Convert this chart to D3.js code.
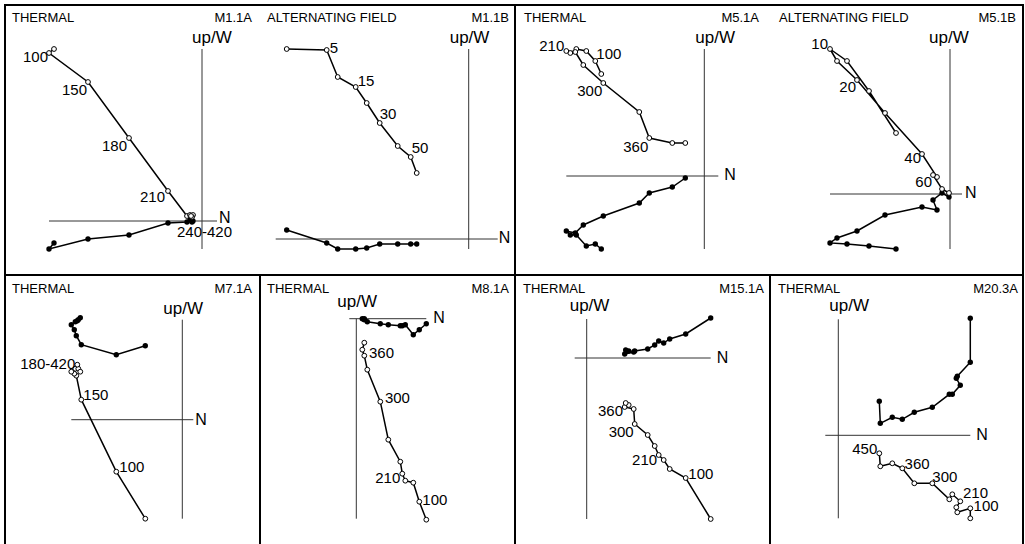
<!DOCTYPE html>
<html>
<head>
<meta charset="utf-8">
<script src="https://cdn.jsdelivr.net/npm/d3@7"></script>
<style>
  body { margin: 0; background: #fff; }
  svg text { font-family: "Liberation Sans", Arial, sans-serif; fill: #000; }
</style>
</head>
<body>
<div class="main"></div>
<script>
// demag data, components in arbitrary units (N, up, W)
var m11aSteps = ["NRM", "100", "150", "180", "210", "240", "270", "300", "360", "420"];
var m11aN  = [-14.8, -15.3, -11.4, -7.3, -3.4, -1.5, -1.2, -0.9, -1.0, -1.1];
var m11aUp = [17.2, 16.8, 13.9, 8.3, 3.0, 0.5, 0.6, 0.6, 0.4, 0.5];
var m11aW  = [-2.2, -2.8, -1.8, -1.4, -0.2, -0.1, 0.1, 0.0, -0.1, 0.1];
var m11aTags = [[1, "100"], [2, "150"], [3, "180"], [4, "210"], [5, "240-420"]];

var m11bSteps = ["NRM", "5", "10", "15", "20", "30", "40", "50", "60"];
var m11bN  = [-18.2, -14.2, -13.1, -11.3, -10.2, -8.9, -7.1, -5.8, -5.2];
var m11bUp = [19.0, 18.9, 16.2, 15.2, 13.6, 11.6, 9.3, 8.2, 6.6];
var m11bW  = [0.9, -0.4, -1.0, -1.0, -0.9, -0.5, -0.5, -0.5, -0.5];
var m11bTags = [[1, "5"], [3, "15"], [5, "30"], [7, "50"]];

var m51aSteps = ["NRM", "100", "150", "180", "200", "210", "240", "270", "300", "330", "360", "390", "420"];
var m51aN  = [-10.3, -10.9, -11.8, -12.8, -13.4, -13.8, -12.9, -12.1, -10.1, -6.5, -5.5, -3.2, -1.9];
var m51aUp = [10.2, 11.5, 12.5, 12.7, 12.3, 12.5, 12.4, 11.1, 9.3, 6.4, 3.8, 3.3, 3.3];
var m51aW  = [-7.3, -6.8, -7.0, -5.9, -5.9, -5.5, -5.7, -4.9, -4.0, -2.7, -1.7, -1.1, -0.2];
var m51aTags = [[5, "210"], [1, "100"], [8, "300"], [10, "360"]];

var m51bSteps = ["NRM", "2", "5", "10", "15", "20", "30", "40", "50", "60", "80", "100"];
var m51bN  = [-5.4, -8.1, -10.3, -12.0, -11.3, -9.3, -6.5, -2.8, -1.3, -1.7, -0.8, -0.1];
var m51bUp = [6.1, 10.3, 13.3, 14.5, 13.3, 11.4, 8.1, 4.0, 1.7, 1.9, 0.5, 0.1];
var m51bW  = [-5.5, -5.2, -5.0, -4.9, -4.4, -3.7, -2.1, -1.3, -1.6, -0.6, 0.1, -0.3];
var m51bTags = [[3, "10"], [5, "20"], [7, "40"], [9, "60"]];

var m71aSteps = ["NRM", "100", "150", "180", "210", "240", "270", "300", "360", "420"];
var m71aN  = [-3.7, -6.6, -10.1, -10.6, -10.8, -11.1, -10.7, -10.4, -10.2, -10.5];
var m71aUp = [-9.9, -5.2, 2.0, 4.4, 4.6, 4.8, 5.1, 5.1, 4.8, 5.5];
var m71aW  = [7.4, 6.5, 7.5, 8.4, 9.0, 9.5, 9.8, 10.0, 10.2, 9.9];
var m71aTags = [[3, "180-420"], [2, "150"], [1, "100"]];

var m81aSteps = ["NRM", "100", "150", "180", "210", "240", "270", "300", "330", "360", "390", "420"];
var m81aN  = [7.0, 6.3, 5.7, 4.9, 4.6, 4.4, 3.2, 2.4, 1.1, 0.8, 0.6, 0.8];
var m81aUp = [-20.1, -18.3, -16.4, -16.2, -15.5, -14.3, -12.1, -8.3, -5.1, -3.7, -3.1, -2.4];
var m81aW  = [-0.5, -1.1, -1.6, -0.6, -0.7, -0.7, -0.6, -0.5, -0.3, -0.1, 0.0, 0.0];
var m81aTags = [[1, "100"], [4, "210"], [7, "300"], [9, "360"]];

var m151aSteps = ["NRM", "100", "150", "180", "210", "240", "270", "300", "330", "360", "390", "420"];
var m151aN  = [12.4, 9.9, 8.3, 7.7, 7.2, 6.8, 6.1, 4.8, 4.7, 3.8, 4.2, 3.9];
var m151aUp = [-16.1, -12.0, -11.1, -10.2, -9.7, -8.8, -7.7, -6.6, -5.1, -4.9, -4.7, -4.5];
var m151aW  = [4.0, 2.4, 1.9, 1.5, 1.7, 1.3, 0.9, 0.7, 0.6, 0.4, 0.7, 0.8];
var m151aTags = [[1, "100"], [4, "210"], [7, "300"], [9, "360"]];

var m203aSteps = ["NRM", "100", "150", "180", "210", "240", "270", "300", "330", "360", "390", "420", "450"];
var m203aN  = [13.2, 13.2, 11.9, 11.8, 12.2, 11.4, 11.1, 9.4, 7.6, 6.4, 5.4, 4.2, 4.1];
var m203aUp = [-8.3, -7.3, -7.7, -7.2, -6.6, -5.9, -6.4, -4.8, -4.8, -3.3, -2.8, -3.1, -1.8];
var m203aW  = [11.7, 7.3, 5.9, 5.7, 5.0, 4.1, 4.1, 2.8, 2.3, 1.6, 1.8, 1.2, 3.4];
var m203aTags = [[1, "100"], [4, "210"], [7, "300"], [9, "360"], [12, "450"]];

// layout of each diagram: origin, axis extents (data units), label offsets
var plots = [
  { title: "THERMAL", id: "M1.1A", tx: 12, idx: 252, ty: 22, ox: 202, oy: 221,
    n: m11aN, up: m11aUp, w: m11aW, tags: m11aTags,
    hx: [-15.3, 1.5], vy: [-2.8, 17.2], upDx: -10, upDy: -6, nDx: 2, nDy: 2,
    lab: [["end", -1, 9], ["end", -1, 13], ["end", -2, 13], ["end", -3, 11], ["start", -10, 21]] },
  { title: "ALTERNATING FIELD", id: "M1.1B", tx: 267, idx: 509, ty: 22, ox: 468.7, oy: 239,
    n: m11bN, up: m11bUp, w: m11bW, tags: m11bTags,
    hx: [-19.3, 2.9], vy: [-1.0, 19.0], upDx: -19, upDy: -6, nDx: 1, nDy: 4,
    lab: [["start", 3, 3], ["start", 2, -1], ["start", 0, -4], ["start", 1, -4]] },
  { title: "THERMAL", id: "M5.1A", tx: 524, idx: 759, ty: 22, ox: 704.3, oy: 176,
    n: m51aN, up: m51aUp, w: m51aW, tags: m51aTags,
    hx: [-13.8, 1.4], vy: [-7.3, 12.7], upDx: -9, upDy: -6, nDx: 6, nDy: 4,
    lab: [["end", -2, 0], ["start", 1, -2], ["end", -1, 13], ["end", -1, 14]] },
  { title: "ALTERNATING FIELD", id: "M5.1B", tx: 779, idx: 1016, ty: 22, ox: 950, oy: 194,
    n: m51bN, up: m51bUp, w: m51bW, tags: m51bTags,
    hx: [-12.0, 1.2], vy: [-5.5, 14.5], upDx: -21, upDy: -6, nDx: 3, nDy: 4,
    lab: [["end", -2, 0], ["end", -1, 12], ["end", -1, 9], ["end", -1, 12]] },
  { title: "THERMAL", id: "M7.1A", tx: 12, idx: 252, ty: 292.5, ox: 182.3, oy: 419.7,
    n: m71aN, up: m71aUp, w: m71aW, tags: m71aTags,
    hx: [-11.1, 1.1], vy: [-9.9, 10.0], upDx: -19, upDy: -6, nDx: 2, nDy: 5,
    lab: [["end", -1, -7], ["start", 2, 0], ["start", 3, 0]] },
  { title: "THERMAL", id: "M8.1A", tx: 267, idx: 509, ty: 292.5, ox: 356.3, oy: 318.7,
    n: m81aN, up: m81aUp, w: m81aW, tags: m81aTags,
    hx: [-0.7, 7.0], vy: [-20.0, 0.0], upDx: -19, upDy: -12, nDx: 7, nDy: 4,
    lab: [["start", 3, 3], ["end", -2, 9], ["start", 4.6, 1.7], ["start", 4.7, 2.7]] },
  { title: "THERMAL", id: "M15.1A", tx: 523, idx: 764, ty: 292.5, ox: 586.7, oy: 358,
    n: m151aN, up: m151aUp, w: m151aW, tags: m151aTags,
    hx: [-1.2, 12.4], vy: [-16.1, 3.9], upDx: -17, upDy: -8, nDx: 6, nDy: 5,
    lab: [["start", 2.6, 0.7], ["end", -1.6, 10], ["end", -1, 12.7], ["end", -1.7, 9]] },
  { title: "THERMAL", id: "M20.3A", tx: 778, idx: 1018, ty: 292.5, ox: 838.3, oy: 435.3,
    n: m203aN, up: m203aUp, w: m203aW, tags: m203aTags,
    hx: [-1.3, 13.2], vy: [-8.3, 11.6], upDx: -9, upDy: -8, nDx: 6, nDy: 5,
    lab: [["start", 3.3, 2.5], ["start", 2.7, -3.5], ["start", 0, -1], ["start", 2.3, 0.6], ["end", -2, 1]] }
];

var width = 1025, height = 544, k = 10;

var svg = d3.select(".main")
  .append("svg")
    .attr("width", width)
    .attr("height", height);

// frame
var frame = svg.append("g")
  .style("stroke", "black")
  .style("stroke-width", 2)
  .style("fill", "none");
frame.append("rect").attr("x", 5).attr("y", 5).attr("width", 1018).attr("height", 545);
frame.append("line").attr("x1", 5).attr("x2", 1023).attr("y1", 275).attr("y2", 275);
frame.append("line").attr("x1", 515).attr("x2", 515).attr("y1", 5).attr("y2", 550);
frame.append("line").attr("x1", 260).attr("x2", 260).attr("y1", 275).attr("y2", 550);
frame.append("line").attr("x1", 770).attr("x2", 770).attr("y1", 275).attr("y2", 550);

plots.forEach(function(p) {
  var x = d3.scaleLinear().domain([0, 1]).range([p.ox, p.ox + k]);
  var y = d3.scaleLinear().domain([0, 1]).range([p.oy, p.oy - k]);
  var g = svg.append("g");

  g.append("text")
    .attr("x", p.tx).attr("y", p.ty)
    .text(p.title)
    .style("font-size", "13px");
  g.append("text")
    .attr("x", p.idx).attr("y", p.ty)
    .text(p.id)
    .style("text-anchor", "end")
    .style("font-size", "13px");

  // axes
  g.append("line")
    .attr("x1", x(p.hx[0])).attr("x2", x(p.hx[1]))
    .attr("y1", y(0)).attr("y2", y(0))
    .style("stroke", "#333").style("stroke-width", 1);
  g.append("line")
    .attr("x1", x(0)).attr("x2", x(0))
    .attr("y1", y(p.vy[0])).attr("y2", y(p.vy[1]))
    .style("stroke", "#333").style("stroke-width", 1);
  g.append("text")
    .attr("x", x(p.hx[1]) + p.nDx).attr("y", y(0) + p.nDy)
    .text("N")
    .style("font-size", "16px");
  g.append("text")
    .attr("x", x(0) + p.upDx).attr("y", y(p.vy[1]) + p.upDy)
    .text("up/W")
    .style("font-size", "17px");

  var idx = d3.range(p.n.length);
  var hor = d3.line().x(function(i) { return x(p.n[i]); }).y(function(i) { return y(p.w[i]); });
  var ver = d3.line().x(function(i) { return x(p.n[i]); }).y(function(i) { return y(p.up[i]); });

  g.append("path").attr("d", hor(idx))
    .style("fill", "none").style("stroke", "black").style("stroke-width", 1.5);
  g.append("path").attr("d", ver(idx))
    .style("fill", "none").style("stroke", "black").style("stroke-width", 1.5);

  g.selectAll(".filled")
    .data(idx)
    .enter().append("circle")
      .attr("cx", function(i) { return x(p.n[i]); })
      .attr("cy", function(i) { return y(p.w[i]); })
      .attr("r", 2.7)
      .style("fill", "black");

  g.selectAll(".open")
    .data(idx)
    .enter().append("circle")
      .attr("cx", function(i) { return x(p.n[i]); })
      .attr("cy", function(i) { return y(p.up[i]); })
      .attr("r", 2.4)
      .style("fill", "white")
      .style("stroke", "black")
      .style("stroke-width", 1);

  p.tags.forEach(function(t, j) {
    var o = p.lab[j];
    g.append("text")
      .attr("x", x(p.n[t[0]]) + o[1])
      .attr("y", y(p.up[t[0]]) + o[2])
      .text(t[1])
      .style("text-anchor", o[0])
      .style("font-size", "15px");
  });
});
</script>
</body>
</html>
